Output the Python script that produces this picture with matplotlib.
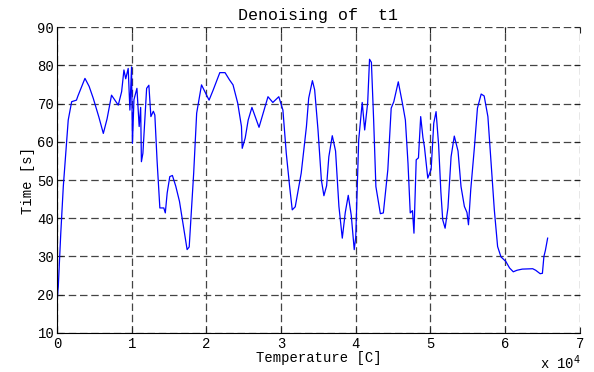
import matplotlib
matplotlib.use("Agg")
import matplotlib.pyplot as plt
from matplotlib.ticker import FuncFormatter, MultipleLocator

# traced curve: temperature (in units of 1e4) and time
temp_e4 = [0.0, 0.017, 0.05, 0.084, 0.15, 0.196, 0.26, 0.28, 0.374, 0.43, 0.485,
           0.56, 0.62, 0.67, 0.73, 0.82, 0.865, 0.896, 0.92, 0.953, 0.976, 0.998,
           1.01, 1.03, 1.05, 1.07, 1.10, 1.12, 1.13, 1.15, 1.20, 1.23, 1.257,
           1.29, 1.31, 1.34, 1.377, 1.43, 1.45, 1.475, 1.51, 1.545, 1.59, 1.64,
           1.70, 1.742, 1.77, 1.83, 1.87, 1.935, 1.98, 2.036, 2.09, 2.18, 2.25,
           2.31, 2.357, 2.42, 2.47, 2.48, 2.52, 2.56, 2.61, 2.705, 2.825, 2.89,
           2.97, 3.025, 3.07, 3.115, 3.15, 3.19, 3.27, 3.34, 3.37, 3.42, 3.45,
           3.495, 3.54, 3.574, 3.61, 3.64, 3.686, 3.73, 3.775, 3.82, 3.86,
           3.90, 3.94, 3.98, 4.00, 4.04, 4.087, 4.12, 4.16, 4.185, 4.21,
           4.24, 4.27, 4.33, 4.37, 4.43, 4.475, 4.51, 4.57, 4.63, 4.665,
           4.70, 4.73, 4.76, 4.78, 4.81, 4.84, 4.87, 4.90, 4.92, 4.965,
           5.01, 5.045, 5.076, 5.11, 5.14, 5.165, 5.197, 5.235, 5.277, 5.32,
           5.37, 5.41, 5.455, 5.49, 5.51, 5.54, 5.59, 5.63, 5.68, 5.72,
           5.77, 5.81, 5.856, 5.90, 5.945, 6.01, 6.06, 6.11, 6.16, 6.23, 6.37,
           6.41, 6.47, 6.50, 6.52, 6.54, 6.57]
time_s = [18.0, 22.2, 36.0, 48.3, 65.7, 70.5, 70.9, 72.0, 76.6, 74.5, 71.4,
          66.5, 62.2, 66.0, 72.2, 69.6, 73.1, 78.8, 76.5, 79.2, 68.3, 79.6,
          59.6, 71.0, 72.5, 74.0, 64.0, 69.0, 54.8, 57.0, 74.0, 74.8, 66.6,
          68.0, 67.0, 55.0, 42.7, 42.7, 41.4, 46.6, 50.9, 51.2, 48.4, 44.4,
          37.0, 31.8, 32.5, 51.8, 67.5, 74.9, 73.1, 70.9, 73.5, 78.1, 78.1,
          76.2, 74.9, 70.1, 64.0, 58.3, 61.0, 65.7, 69.0, 63.8, 71.8, 70.3,
          71.8, 68.3, 57.0, 48.3, 42.2, 43.0, 51.8, 64.0, 71.4, 76.0, 73.6,
          63.1, 50.0, 45.9, 48.5, 56.1, 61.6, 57.6, 43.1, 34.8, 41.5,
          46.0, 40.8, 31.8, 35.0, 60.5, 70.3, 63.1, 70.2, 81.6, 80.8,
          65.7, 48.3, 41.2, 41.4, 52.7, 68.8, 70.5, 75.7, 69.6, 65.7,
          54.4, 41.4, 42.0, 36.1, 55.3, 55.8, 66.6, 61.1, 58.7, 50.5,
          52.8, 64.9, 67.9, 59.2, 47.0, 39.6, 37.4, 42.7, 56.1, 61.5,
          57.6, 48.3, 43.1, 41.5, 38.3, 47.4, 58.7, 68.8, 72.5, 72.0,
          66.6, 55.3, 42.2, 32.6, 29.9, 28.7, 27.0, 26.0, 26.4, 26.7, 26.8,
          26.4, 25.5, 25.6, 30.0, 31.6, 34.8]
temperature = [v * 1e4 for v in temp_e4]

plt.rcParams['font.family'] = ['Liberation Mono', 'DejaVu Sans Mono']
plt.rcParams['font.size'] = 10

fig = plt.figure(figsize=(5.94, 3.72), dpi=100)
ax = fig.add_axes([0.096, 0.105, 0.88, 0.822])

ax.plot(temperature, time_s, color='#0000ff', linewidth=0.9)

ax.set_xlim(0, 70000)
ax.set_ylim(10, 90)
ax.xaxis.set_major_locator(MultipleLocator(10000))
ax.yaxis.set_major_locator(MultipleLocator(10))
ax.xaxis.set_major_formatter(FuncFormatter(lambda v, p: '%d' % round(v / 1e4)))

ax.grid(True, color='#444444', linestyle=(0, (6, 3)), linewidth=0.9)
ax.spines['top'].set_visible(False)
ax.spines['right'].set_visible(False)
ax.tick_params(direction='in', top=True, right=True, length=4, color='#222222')
ax.tick_params(axis='x', pad=3)
ax.tick_params(axis='y', pad=2)

ax.set_title('Denoising of  t1', pad=5)
ax.set_xlabel('Temperature [C]', labelpad=0)
ax.set_ylabel('Time [s]', labelpad=2)
ax.text(1.003, -0.098, 'x 10$^4$', transform=ax.transAxes, ha='right', va='center')

fig.savefig('out.png', dpi=100)
